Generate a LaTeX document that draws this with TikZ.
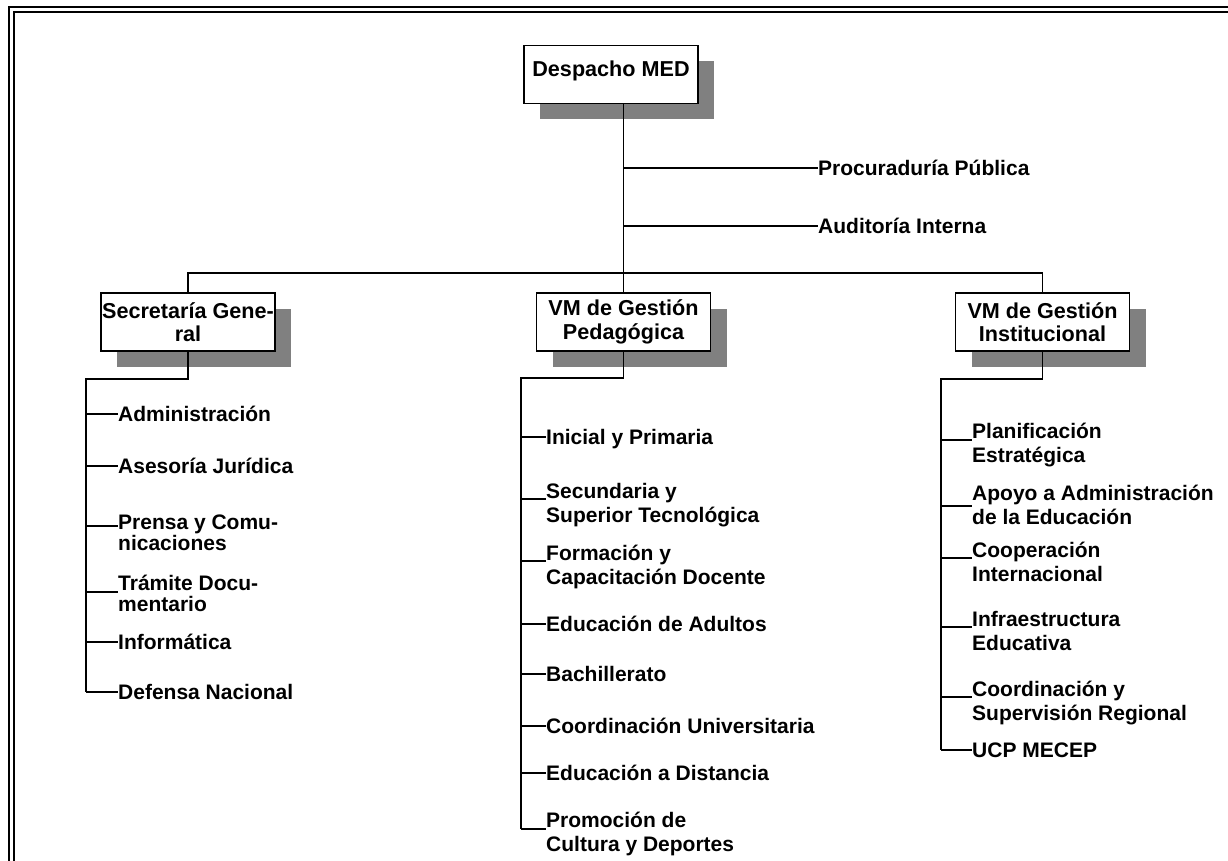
\documentclass[tikz,border=0pt]{standalone}
\usepackage{fontspec}
\setmainfont{Liberation Sans}
\usetikzlibrary{shadows}
\definecolor{shadowgray}{RGB}{128,128,128}
\tikzset{
	unitbox/.style={draw, line width=1.9pt, fill=white, inner sep=0pt,
		minimum width=174pt, minimum height=58pt, align=center,
		font=\bfseries\fontsize{21.6}{23.5}\selectfont,
		drop shadow={shadow xshift=16pt, shadow yshift=-16pt, fill=shadowgray, opacity=1}},
	unitname/.style={inner sep=0pt, align=left, anchor=base west,
		font=\bfseries\fontsize{21}{24}\selectfont},
	link/.style={line width=1.9pt}
}
\newcommand{\orgcolumn}[5][]{%
% node options, prefix, trunk x, text x, list y/baseline offset/text
	\foreach \y/\d/\t [count=\i] in {#5} {
		\coordinate (#2c\i) at (#4,\y);
		\node[unitname, #1] (#2\i) at (#4,\y+\d) {\t};
		\draw[link] (#3,\y) -- (#2c\i);
	}
}

\begin{document}
\begin{tikzpicture}[x=1pt, y=-1pt]
	\useasboundingbox (0,0) rectangle (1228,861);
	\clip (0,0) rectangle (1228,861);
	% double frame
	\draw[line width=2.5pt] (9,7) rectangle (1260,890);
	\draw[line width=1.8pt] (14.3,12.2) rectangle (1255,885);

	\node[unitbox, text height=30pt, text depth=25pt, anchor=base] (dm) at (611,77) {Despacho MED};
	\node[unitbox] (sg) at (188,322) {Secretaría Gene-\\ral};
	\node[unitbox] (vp) at (623.5,322) {VM de Gestión\\Pedagógica};
	\node[unitbox] (vi) at (1042.5,322) {VM de Gestión\\Institucional};

	\node[unitname, anchor=west] (pp) at (818,168) {Procuraduría Pública};
	\node[unitname, anchor=west] (ai) at (818,226) {Auditoría Interna};

	\draw[link] (vp.north |- dm.south) -- (vp.north);
	\draw[link] (vp.north |- pp.west) -- (pp.west);
	\draw[link] (vp.north |- ai.west) -- (ai.west);
	\draw[link] (sg.north) -- ++(0,-19) -| (vi.north);

	% trunks
	\draw[link] (sg.south) |- (86,379) -- (86,692);
	\draw[link] (vp.south) |- (521,378) -- (521,829);
	\draw[link] (vi.south) |- (941,379) -- (941,750);

	\orgcolumn[font=\bfseries\fontsize{21}{21}\selectfont]{sg}{86}{118}{
		414/7/Administración, 466/7/Asesoría Jurídica,
		526/24/{Prensa y Comu-\\nicaciones}, 592/19/{Trámite Docu-\\mentario},
		642/7/Informática, 692/7/Defensa Nacional}
	\orgcolumn{vp}{521}{546}{
		437/7/Inicial y Primaria, 499/23/{Secundaria y\\Superior Tecnológica},
		561/23/{Formación y\\Capacitación Docente}, 624/7/Educación de Adultos,
		674/7/Bachillerato, 726/7/Coordinación Universitaria,
		773/7/Educación a Distancia, 829/22/{Promoción de\\Cultura y Deportes}}
	\orgcolumn{vi}{941}{972}{
		440/22/{Planificación\\Estratégica}, 506/18/{Apoyo a Administración\\de la Educación},
		558/23/{Cooperación\\Internacional}, 627/23/{Infraestructura\\Educativa},
		697/23/{Coordinación y\\Supervisión Regional}, 750/7/UCP MECEP}
\end{tikzpicture}
\end{document}
